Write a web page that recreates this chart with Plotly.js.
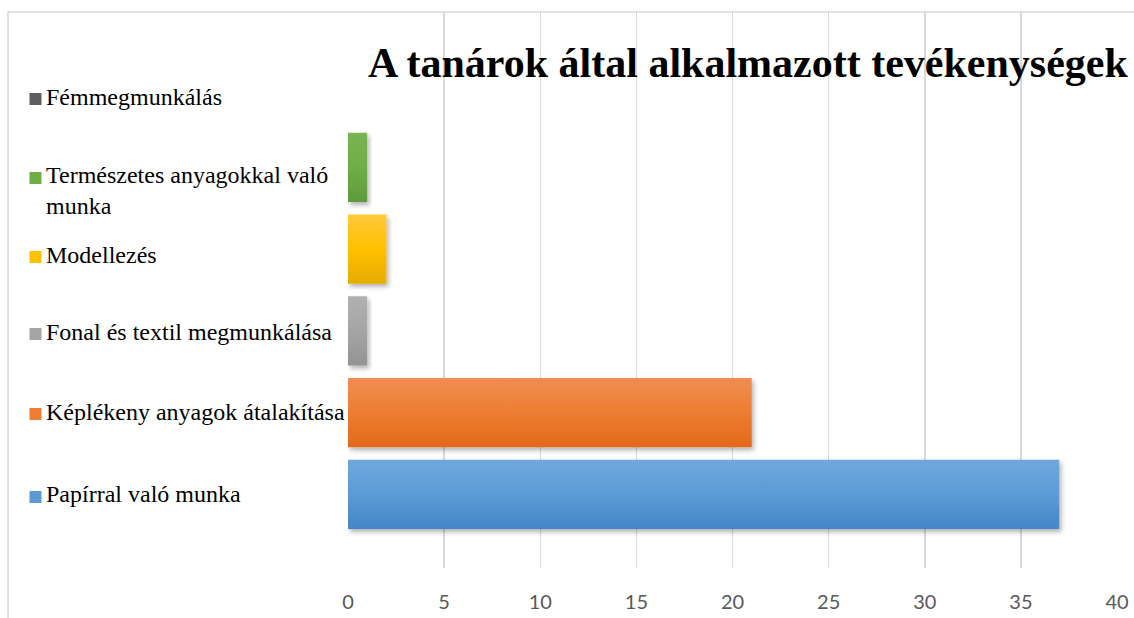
<!DOCTYPE html>
<html>
<head>
<meta charset="utf-8">
<script src="https://cdn.plot.ly/plotly-3.0.1.min.js"></script>
<style>
  html, body { margin: 0; padding: 0; background: #ffffff; }
  #chart { width: 1134px; height: 618px; }
</style>
</head>
<body>
<div id="chart"></div>
<script>
// ---- Data ----
const categories = [
  "Papírral való munka",
  "Képlékeny anyagok átalakítása",
  "Fonal és textil megmunkálása",
  "Modellezés",
  "Természetes anyagokkal való munka",
  "Fémmegmunkálás"
];
const legendLabels = [
  "Papírral való munka",
  "Képlékeny anyagok átalakítása",
  "Fonal és textil megmunkálása",
  "Modellezés",
  "Természetes anyagokkal való<br>munka",
  "Fémmegmunkálás"
];
const values = [37, 21, 1, 2, 1, 0];
const xTicks = [0, 5, 10, 15, 20, 25, 30, 35, 40];
const chartTitle = "A tanárok által alkalmazott tevékenységek";

// ---- Styles ----
const baseColors = ["#5b9bd5", "#ed7d31", "#a5a5a5", "#ffc000", "#70ad47", "#5e5e5e"];
const gradTop    = ["#70a7dd", "#f08d52", "#b0b0b0", "#ffca3a", "#7bb353", "#6c6c6c"];
const gradBottom = ["#4486c7", "#e2691a", "#939393", "#e6ac00", "#5f9b3a", "#4e4e4e"];
// legend layout (paper coordinates)
const legendTextY   = [0.1331, 0.2806, 0.4245, 0.5629, 0.6781, 0.8471];
const legendSquareY = [0.1277, 0.2770, 0.4209, 0.5594, 0.7014, 0.8435];
const legendTextX = -0.3953;
const legendSquareX = -0.4064;

const trace = {
  type: "bar",
  orientation: "h",
  y: categories,
  x: values,
  width: 0.845,
  marker: { color: baseColors, line: { width: 0 } },
  hoverinfo: "x+y"
};

const annotations = [];
const shapes = [];

// frame
shapes.push({
  type: "rect", xref: "paper", yref: "paper",
  x0: -0.4421, x1: 1.2, y0: -0.3, y1: 1.0,
  line: { color: "#d9d9d9", width: 1.5 }, fillcolor: "rgba(0,0,0,0)", layer: "below"
});

categories.forEach((c, i) => {
  annotations.push({
    xref: "paper", yref: "paper",
    x: legendTextX, y: legendTextY[i],
    xanchor: "left", yanchor: "middle", align: "left",
    text: legendLabels[i], showarrow: false,
    font: { family: "Liberation Serif, Times New Roman, serif", size: 24, color: "#000000" }
  });
  shapes.push({
    type: "rect", xref: "paper", yref: "paper",
    xsizemode: "pixel", ysizemode: "pixel",
    xanchor: legendSquareX, yanchor: legendSquareY[i],
    x0: -6, x1: 6, y0: -6, y1: 6,
    line: { width: 0 }, fillcolor: baseColors[i]
  });
});

annotations.push({
  xref: "paper", yref: "paper",
  x: (366 - 348) / 769, y: 0.909,
  xanchor: "left", yanchor: "middle",
  text: "<b>" + chartTitle + "</b>", showarrow: false,
  font: { family: "Liberation Serif, Times New Roman, serif", size: 42, color: "#000000" }
});

const layout = {
  width: 1134, height: 618,
  margin: { l: 348, r: 17, t: 12, b: 50 },
  paper_bgcolor: "#ffffff", plot_bgcolor: "rgba(0,0,0,0)",
  showlegend: false,
  bargap: 0.155,
  xaxis: {
    range: [0, 40], tickvals: xTicks, ticktext: xTicks.map(String),
    showgrid: true, gridcolor: "#d9d9d9", gridwidth: 1.5,
    zeroline: false, showline: false, ticks: "",
    ticklabelstandoff: 20,
    tickfont: { family: "Lato, Open Sans, sans-serif", size: 20, color: "#595959" },
    fixedrange: true
  },
  yaxis: {
    type: "category", categoryarray: categories, categoryorder: "array",
    range: [-0.9, 5.9], showticklabels: false, showgrid: false,
    zeroline: false, showline: false, ticks: "", fixedrange: true
  },
  annotations: annotations,
  shapes: shapes
};

Plotly.newPlot("chart", [trace], layout, { displayModeBar: false, staticPlot: true }).then(gd => {
  const svg = gd.querySelector("svg.main-svg");
  const NS = "http://www.w3.org/2000/svg";
  let defs = svg.querySelector("defs");
  if (!defs) { defs = document.createElementNS(NS, "defs"); svg.insertBefore(defs, svg.firstChild); }
  baseColors.forEach((c, i) => {
    const g = document.createElementNS(NS, "linearGradient");
    g.setAttribute("id", "barGrad" + i);
    g.setAttribute("x1", "0"); g.setAttribute("y1", "0");
    g.setAttribute("x2", "0"); g.setAttribute("y2", "1");
    [[0, gradTop[i]], [0.5, c], [1, gradBottom[i]]].forEach(([o, col]) => {
      const s = document.createElementNS(NS, "stop");
      s.setAttribute("offset", o); s.setAttribute("stop-color", col);
      g.appendChild(s);
    });
    defs.appendChild(g);
  });
  const f = document.createElementNS(NS, "filter");
  f.setAttribute("id", "barShadow");
  f.setAttribute("x", "-10%"); f.setAttribute("y", "-10%");
  f.setAttribute("width", "130%"); f.setAttribute("height", "140%");
  const ds = document.createElementNS(NS, "feDropShadow");
  ds.setAttribute("dx", "2"); ds.setAttribute("dy", "3");
  ds.setAttribute("stdDeviation", "2.5"); ds.setAttribute("flood-color", "#000");
  ds.setAttribute("flood-opacity", "0.3");
  f.appendChild(ds); defs.appendChild(f);
  gd.querySelectorAll(".barlayer .point path").forEach((p, i) => {
    p.style.fill = "url(#barGrad" + i + ")";
    p.style.filter = "url(#barShadow)";
  });
});
</script>
</body>
</html>
